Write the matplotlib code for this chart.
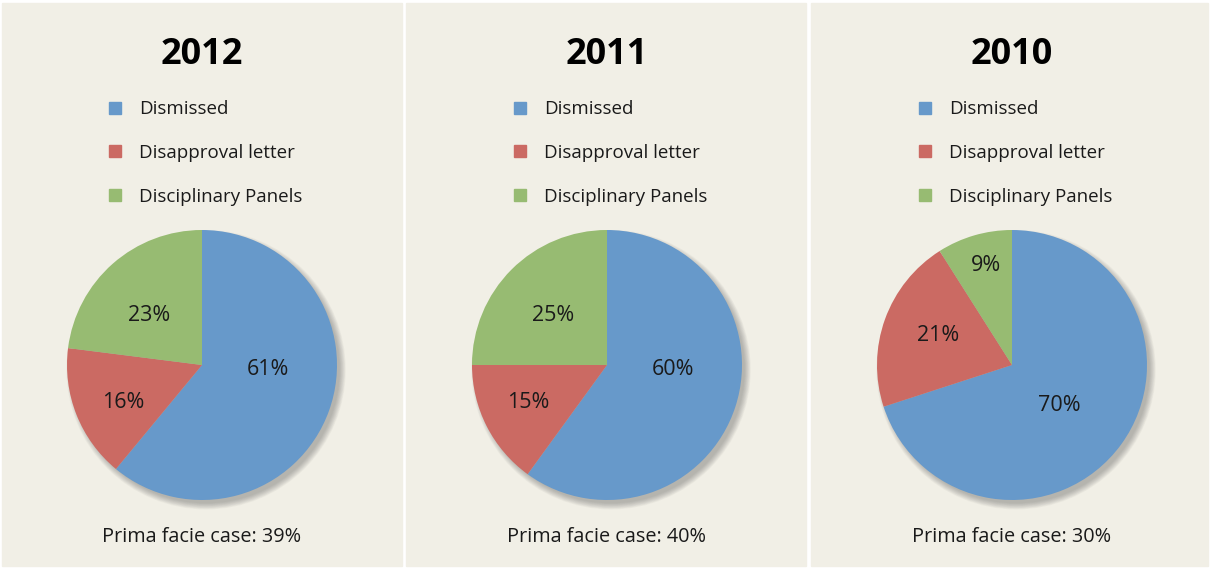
import matplotlib.pyplot as plt
from matplotlib.patches import Rectangle, Circle

plt.rcParams['font.family'] = ['Open Sans', 'DejaVu Sans']

years = ['2012', '2011', '2010']
categories = ['Dismissed', 'Disapproval letter', 'Disciplinary Panels']
shares = [
    [61, 16, 23],
    [60, 15, 25],
    [70, 21, 9],
]
prima_facie = [39, 40, 30]

colors = ['#6799ca', '#cb6a63', '#97bb72']
bg = '#f1efe6'
# where the % labels sit inside each pie (fraction of radius, from centre)
label_pos = [
    [(0.49, -0.01), (-0.58, -0.26), (-0.39, 0.39)],
    [(0.49, -0.01), (-0.58, -0.26), (-0.40, 0.39)],
    [(0.35, -0.28), (-0.55, 0.24), (-0.19, 0.755)],
]

W, H = 1210, 569
fig = plt.figure(figsize=(W / 100, H / 100), dpi=100)
fig.patch.set_facecolor('white')

panels = [(2, 400), (406, 400), (811, 397)]
centers = [202, 607, 1012]
R = 135
cy = 365

for i, year in enumerate(years):
    px, pw = panels[i]
    fig.patches.append(Rectangle((px / W, 3 / H), pw / W, (566 - 3) / H,
                                 transform=fig.transFigure, color=bg, zorder=-5))
    cx = centers[i]

    fig.text(cx / W, 1 - 55 / H, year, ha='center', va='center',
             fontsize=26, fontweight='bold', color='black')

    for k, cat in enumerate(categories):
        yy = 108 + k * 43.5
        fig.patches.append(Rectangle(((cx - 93) / W, 1 - (yy + 6) / H), 12 / W, 12 / H,
                                     transform=fig.transFigure, color=colors[k], zorder=2))
        fig.text((cx - 63) / W, 1 - (yy + 1.5) / H, cat, ha='left', va='center',
                 fontsize=13.5, color='#1a1a1a')

    fig.text(cx / W, 1 - 537 / H, 'Prima facie case: %d%%' % prima_facie[i],
             ha='center', va='center', fontsize=14.3, color='#1a1a1a')

    ax = fig.add_axes([(cx - R) / W, (H - cy - R) / H, 2 * R / W, 2 * R / H])
    ax.set_facecolor('none')
    ax.set_zorder(1)

    # soft shadow, down and to the right
    for j in range(10):
        sh = Circle((0.03, -0.035), 0.985 + 0.005 * (10 - j), color='#555555',
                    alpha=0.045, zorder=0, lw=0)
        sh.set_clip_on(False)
        ax.add_patch(sh)

    ax.pie(shares[i], colors=colors, startangle=90, counterclock=False,
           radius=1.0, wedgeprops=dict(linewidth=0, zorder=2))
    for v, (lx, ly) in zip(shares[i], label_pos[i]):
        ax.text(lx, ly - 0.02, '%d%%' % v, ha='center', va='center',
                fontsize=15.5, color='#1a1a1a', zorder=3)
    ax.set_xlim(-1, 1)
    ax.set_ylim(-1, 1)
    ax.set_aspect('equal')
    ax.axis('off')

fig.savefig('out.png', dpi=100, facecolor=fig.get_facecolor())
